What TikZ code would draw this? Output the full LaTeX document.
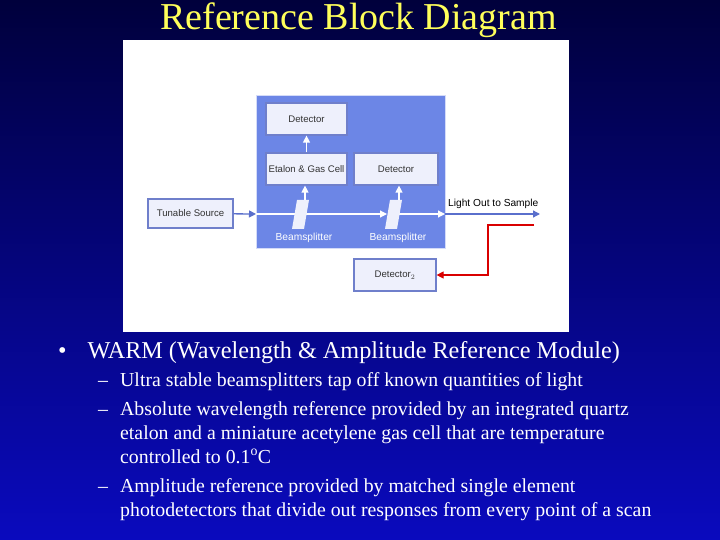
\documentclass[tikz,border=0pt]{standalone}
\usepackage{fontspec}
\setmainfont{Liberation Serif}
\newfontfamily\diag{Liberation Sans}
\usetikzlibrary{arrows.meta}
\begin{document}
\begin{tikzpicture}[x=1pt,y=-1pt,
  box/.style={draw=boxedge,line width=1.2pt,fill=boxfill,font=\diag\fontsize{9.6}{10}\selectfont,text=black!80,inner sep=0pt},
  warr/.style={white,line width=1.2pt,-{Triangle[length=7pt,width=7pt]}},
  bs/.style={fill=boxfill,draw=none},
  btxt/.style={font=\fontsize{19.8}{22}\selectfont,text=white,anchor=base west,inner sep=0pt},
  small/.style={font=\diag\fontsize{10.2}{11}\selectfont,inner sep=0pt}]
\definecolor{boxfill}{HTML}{EEF0FC}
\definecolor{boxedge}{HTML}{6F7FCB}
\definecolor{bluebg}{HTML}{6C86E6}
\definecolor{linkblue}{HTML}{5A6FCC}
\useasboundingbox (0,0) rectangle (720,540);
\shade[top color={rgb,255:red,0;green,0;blue,60},bottom color={rgb,255:red,10;green,10;blue,190}] (0,0) rectangle (720,540);
\node[font=\fontsize{38}{40}\selectfont,text={rgb,255:red,255;green,255;blue,90},inner sep=0pt,anchor=base] (title) at (358.5,30) {Reference Block Diagram};
\node[fill=white,minimum width=446pt,minimum height=292pt,inner sep=0pt,anchor=north west] (panel) at (123,40) {};
\node[fill=bluebg,draw=boxfill!80!bluebg,line width=1pt,minimum width=189pt,minimum height=153pt,anchor=north west] (blue) at (256,95) {};
\node[box,minimum width=81pt,minimum height=32pt] (det1) at (306.5,119) {Detector};
\node[box,minimum width=81pt,minimum height=32pt] (etal) at (306.5,169) {Etalon \& Gas Cell};
\node[box,minimum width=84pt,minimum height=32pt] (det2) at (396,169) {Detector};
\node[box,minimum width=85pt,minimum height=29pt] (src) at (190.5,213.5) {Tunable Source};
\node[box,minimum width=82pt,minimum height=32pt] (det3) at (395,275) {Detector$_2$};
\coordinate (bin) at (256,214);
\coordinate (bs1) at (300,214);
\coordinate (bs2) at (393,214);
\coordinate (bout) at (445,214);
\coordinate (lout) at (540,214);
\draw[linkblue,line width=1.3pt,-{Triangle[length=7pt,width=7pt]}] (src) -- (bin);
\draw[white,line width=1.2pt] (bin) -- (bs1);
\draw[warr] (bs1) -- ([xshift=-6pt]bs2);
\draw[warr] (bs2) -- (bout);
\draw[linkblue,line width=1.3pt,-{Triangle[length=7pt,width=7pt]}] (bout) -- (lout);
\fill[bs] (292,229) -- (304,229) -- (309,200) -- (297,200) -- cycle;
\fill[bs] (385,229) -- (397,229) -- (402,200) -- (390,200) -- cycle;
\draw[warr] (305,200) -- (etal.south -| 305,0);
\draw[warr] (399,200) -- (det2.south -| 399,0);
\draw[warr] (etal.north) -- (det1.south);
\node[small,text=white] (l1) at (304,238) {Beamsplitter};
\node[small,text=white] (l2) at (398,238) {Beamsplitter};
\node[small,text=black,anchor=west] (l3) at (448,204) {Light Out to Sample};
\coordinate (r0) at (534,225);
\coordinate (r1) at (488,225);
\coordinate (r2) at (488,275);
\draw[red!85!black,line width=1.2pt,-{Triangle[length=7pt,width=7pt]}] (r0) -- (r1) -- (r2) -- (det3.east);
\node[font=\fontsize{24.2}{26}\selectfont,text=white,anchor=base west,inner sep=0pt] (b0) at (58,358) {\textbullet\hspace{21pt}WARM (Wavelength \& Amplitude Reference Module)};
\node[btxt] (d1) at (98,386) {–};
\node[btxt] (s1) at (120,386) {Ultra stable beamsplitters tap off known quantities of light};
\node[btxt] (d2) at (98,415) {–};
\node[btxt] (s2) at (120,415) {Absolute wavelength reference provided by an integrated quartz};
\node[btxt] (s3) at (120,439) {etalon and a miniature acetylene gas cell that are temperature};
\node[btxt] (s4) at (120,463) {controlled to 0.1\textsuperscript{o}C};
\node[btxt] (d3) at (98,492) {–};
\node[btxt] (s5) at (120,492) {Amplitude reference provided by matched single element};
\node[btxt] (s6) at (120,516) {photodetectors that divide out responses from every point of a scan};
\end{tikzpicture}
\end{document}
